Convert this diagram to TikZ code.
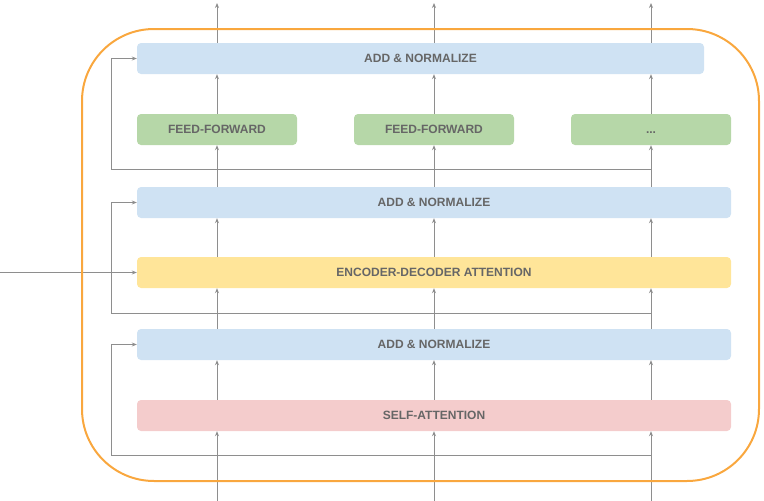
\documentclass[tikz,border=0pt]{standalone}
\usepackage{fontspec}
\setmainfont{Liberation Sans}
\usetikzlibrary{arrows.meta}
\definecolor{normblue}{HTML}{CFE2F3}
\definecolor{ffgreen}{HTML}{B6D7A8}
\definecolor{attyellow}{HTML}{FFE599}
\definecolor{selfred}{HTML}{F4CCCC}
\definecolor{framorange}{HTML}{F9A73E}
\definecolor{wiregray}{HTML}{8E8E8E}
\definecolor{textgray}{HTML}{666666}
\begin{document}
\begin{tikzpicture}[x=1pt, y=-1pt,
	layer/.style = {rounded corners=4pt, minimum height=31pt, inner sep=0pt, text height=8.6pt, text depth=0pt, font=\fontsize{12}{14}\selectfont\bfseries, text=textgray},
	wire/.style = {draw=wiregray, line width=1pt},
	>={Stealth[length=5pt, width=4pt]}]
				\useasboundingbox (0,0) rectangle (764,501);
				\node[layer, fill=normblue, minimum width=567pt] (an3) at (420.5,58.5) {ADD \& NORMALIZE};
				\node[layer, fill=ffgreen, minimum width=160pt] (ff1) at (217,129.5) {FEED-FORWARD};
				\node[layer, fill=ffgreen, minimum width=160pt] (ff2) at (434,129.5) {FEED-FORWARD};
				\node[layer, fill=ffgreen, minimum width=160pt] (ff3) at (651,129.5) {...};
				\node[layer, fill=normblue, minimum width=594pt] (an2) at (434,202.5) {ADD \& NORMALIZE};
				\node[layer, fill=attyellow, minimum width=594pt] (eda) at (434,272.5) {ENCODER-DECODER ATTENTION};
				\node[layer, fill=normblue, minimum width=594pt] (an1) at (434,344.5) {ADD \& NORMALIZE};
				\node[layer, fill=selfred, minimum width=594pt] (sa) at (434,415.5) {SELF-ATTENTION};
				\foreach \x/\n in {217/1,434/2,651/3} {
					\coordinate (in\n) at (\x,501);
					\coordinate (out\n) at (\x,3);
					\draw[wire, ->] (in\n) -- (in\n |- sa.south);
					\draw[wire, ->] (in\n |- sa.north) -- (in\n |- an1.south);
					\draw[wire, ->] (in\n |- an1.north) -- (in\n |- eda.south);
					\draw[wire, ->] (in\n |- eda.north) -- (in\n |- an2.south);
					\draw[wire, ->] (in\n |- an2.north) -- (in\n |- ff\n.south);
					\draw[wire, ->] (in\n |- ff\n.north) -- (in\n |- an3.south);
					\draw[wire, ->] (in\n |- an3.north) -- (out\n);
				}
				\coordinate (lft) at (111,0);
				\coordinate (r1) at (651,455);
				\coordinate (r2) at (651,313);
				\coordinate (r3) at (651,169);
				\draw[wire, ->] (r1) -- (r1 -| lft) |- (an1.west);
				\draw[wire, ->] (r2) -- (r2 -| lft) |- (an2.west);
				\draw[wire, ->] (r3) -- (r3 -| lft) |- (an3.west);
				\coordinate (ext) at (0,272.5);
				\draw[wire, ->] (ext) -- (eda.west);
				\draw[framorange, line width=2pt, rounded corners=72pt] (82,29) rectangle (759,481);
			\end{tikzpicture}
\end{document}
